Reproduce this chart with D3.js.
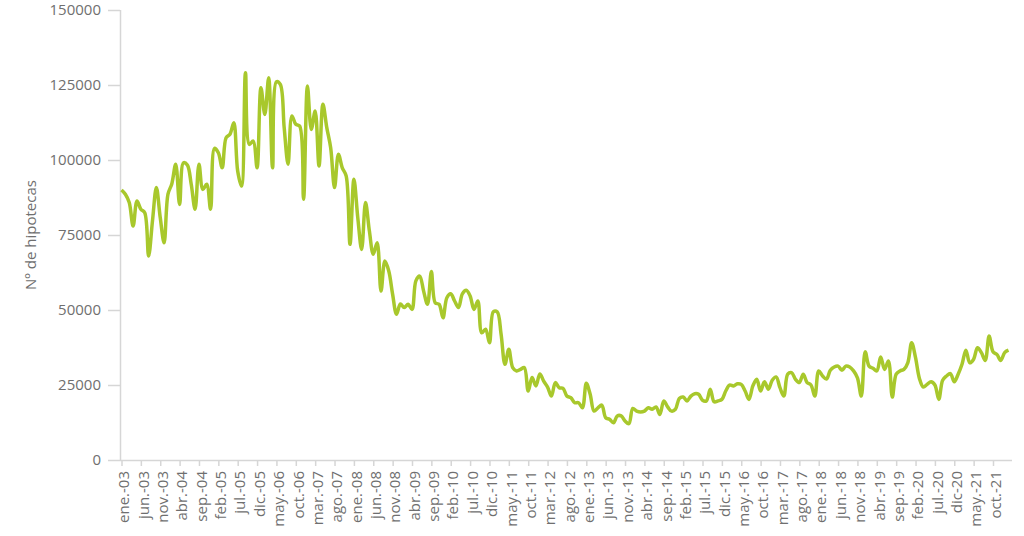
<!DOCTYPE html>
<html>
<head>
<meta charset="utf-8">
<script src="https://cdn.jsdelivr.net/npm/d3@7/dist/d3.min.js"></script>
<style>
  html, body { margin: 0; padding: 0; background: #ffffff; }
  svg { display: block; }
  text { font-family: "Open Sans", "Noto Sans", sans-serif; }
</style>
</head>
<body>
<svg id="chart" width="1024" height="536"></svg>
<script>
// ---- Data (monthly mortgages, ene.-03 .. feb.-22) ----
const monthAbbr = ["ene.","feb.","mar.","abr.","may.","jun.","jul.","ago.","sep.","oct.","nov.","dic."];
const startYear = 2003;
const values = [
  90000, 88600, 85800, 78000, 86300, 83600, 82400, 68000, 79700, 90800, 80800, 72400,
  88600, 92100, 98600, 85200, 99100, 98300, 91900, 83600, 98600, 90200, 91900, 83600,
  103900, 102400, 97400, 107400, 108600, 112400, 96300, 91300, 129100, 105200, 106300, 97400,
  124100, 115200, 127400, 97400, 126100, 125200, 110800, 98600, 114700, 111900, 111300, 86900,
  124700, 110200, 116300, 98000, 118600, 110800, 104100, 90800, 101900, 97400, 94700, 71900,
  93600, 80800, 70200, 85800, 76300, 68600, 72400, 56300, 66300, 63000, 55200, 48600,
  52000, 50800, 51900, 50200, 59700, 61300, 56300, 51900, 62800, 52400, 51900, 47400,
  54100, 55400, 53000, 50800, 55400, 56600, 54700, 50200, 53000, 42400, 43600, 39100,
  49400, 49400, 41900, 31900, 36900, 30800, 29700, 30200, 30800, 23000, 27500, 24700,
  28700, 26300, 24300, 21300, 25800, 24100, 23900, 21300, 20800, 19100, 19100, 17400,
  25600, 21900, 16300, 17400, 18300, 14100, 13600, 12400, 14700, 14700, 13000, 12100,
  17200, 16300, 16000, 16300, 17400, 16900, 17700, 15200, 19700, 17700, 16300, 16900,
  20500, 21000, 19700, 21300, 22100, 21900, 19900, 19700, 23600, 19400, 19700, 20200,
  23000, 25000, 24700, 25400, 25200, 23000, 20200, 24700, 26900, 23000, 26100, 23600,
  26600, 27700, 24100, 21300, 28600, 29100, 26900, 25800, 28600, 25800, 25000, 21300,
  29700, 28000, 27000, 29900, 31000, 31300, 29900, 31300, 31000, 29700, 27400, 21300,
  36100, 31300, 30600, 29700, 34300, 30200, 33000, 21000, 28600, 29700, 30200, 32400,
  39100, 34100, 27200, 24300, 25200, 26100, 25000, 20200, 26600, 28000, 28800, 26100,
  28600, 31900, 36600, 32400, 33600, 37400, 35800, 33200, 41300, 36100, 35200, 33200,
  35800, 36600
];
const categories = values.map((v, i) =>
  monthAbbr[i % 12] + "-" + String((startYear + Math.floor(i / 12)) % 100).padStart(2, "0"));

const tickLabels = [
  "ene.-03","jun.-03","nov.-03","abr.-04","sep.-04","feb.-05","jul.-05","dic.-05",
  "may.-06","oct.-06","mar.-07","ago.-07","ene.-08","jun.-08","nov.-08","abr.-09",
  "sep.-09","feb.-10","jul.-10","dic.-10","may.-11","oct.-11","mar.-12","ago.-12",
  "ene.-13","jun.-13","nov.-13","abr.-14","sep.-14","feb.-15","jul.-15","dic.-15",
  "may.-16","oct.-16","mar.-17","ago.-17","ene.-18","jun.-18","nov.-18","abr.-19",
  "sep.-19","feb.-20","jul.-20","dic-20","may.-21","oct.-21"
];
const yTicks = [0, 25000, 50000, 75000, 100000, 125000, 150000];
const yTitle = "Nº de hipotecas";

// ---- Layout ----
const svg = d3.select("#chart");
const axisColor = "#d6d6d6";
const textColor = "#6f6f6f";
const lineColor = "#a8c82c";

const x = d3.scaleLinear().domain([0, categories.length - 1]).range([121.5, 1008.5]);
const y = d3.scaleLinear().domain([0, 150000]).range([460, 10]);

// Axis lines
svg.append("line").attr("x1", 120.5).attr("x2", 120.5).attr("y1", y(150000)).attr("y2", 460)
  .attr("stroke", axisColor).attr("stroke-width", 1.5);
svg.append("line").attr("x1", 120).attr("x2", 1012).attr("y1", 460.5).attr("y2", 460.5)
  .attr("stroke", axisColor).attr("stroke-width", 1.5);

// Y axis
const yAxis = svg.append("g").attr("transform", "translate(120,0)")
  .call(d3.axisLeft(y).tickValues(yTicks).tickFormat(d3.format("d")).tickSize(12).tickPadding(7));
yAxis.select(".domain").remove();
yAxis.selectAll(".tick line").attr("stroke", axisColor).attr("stroke-width", 1.5);
yAxis.selectAll(".tick text").attr("fill", textColor).style("font-size", "15px")
  .style("font-family", "'Open Sans', sans-serif");

// X axis
const tickIdx = tickLabels.map((d, i) => i * 5);
const xAxis = svg.append("g").attr("transform", "translate(0,460)")
  .call(d3.axisBottom(x).tickValues(tickIdx).tickFormat((d, i) => tickLabels[i]).tickSize(6).tickPadding(4));
xAxis.select(".domain").remove();
xAxis.selectAll(".tick line").attr("stroke", axisColor).attr("stroke-width", 1.5);
xAxis.selectAll(".tick text")
  .attr("fill", textColor).style("font-size", "15px")
  .style("font-family", "'Open Sans', sans-serif")
  .attr("text-anchor", "end")
  .attr("transform", "rotate(-90)")
  .attr("x", -11).attr("y", 2).attr("dy", "0.35em");

// Y title
svg.append("text")
  .attr("transform", "translate(36,235) rotate(-90)")
  .attr("text-anchor", "middle")
  .attr("fill", textColor)
  .style("font-size", "15px")
  .text(yTitle);

// Line
const line = d3.line()
  .x((d, i) => x(i))
  .y(d => y(d))
  .curve(d3.curveCatmullRom.alpha(0.5));

svg.append("path")
  .datum(values)
  .attr("fill", "none")
  .attr("stroke", lineColor)
  .attr("stroke-width", 3.5)
  .attr("stroke-linejoin", "round")
  .attr("d", line);
</script>
</body>
</html>
